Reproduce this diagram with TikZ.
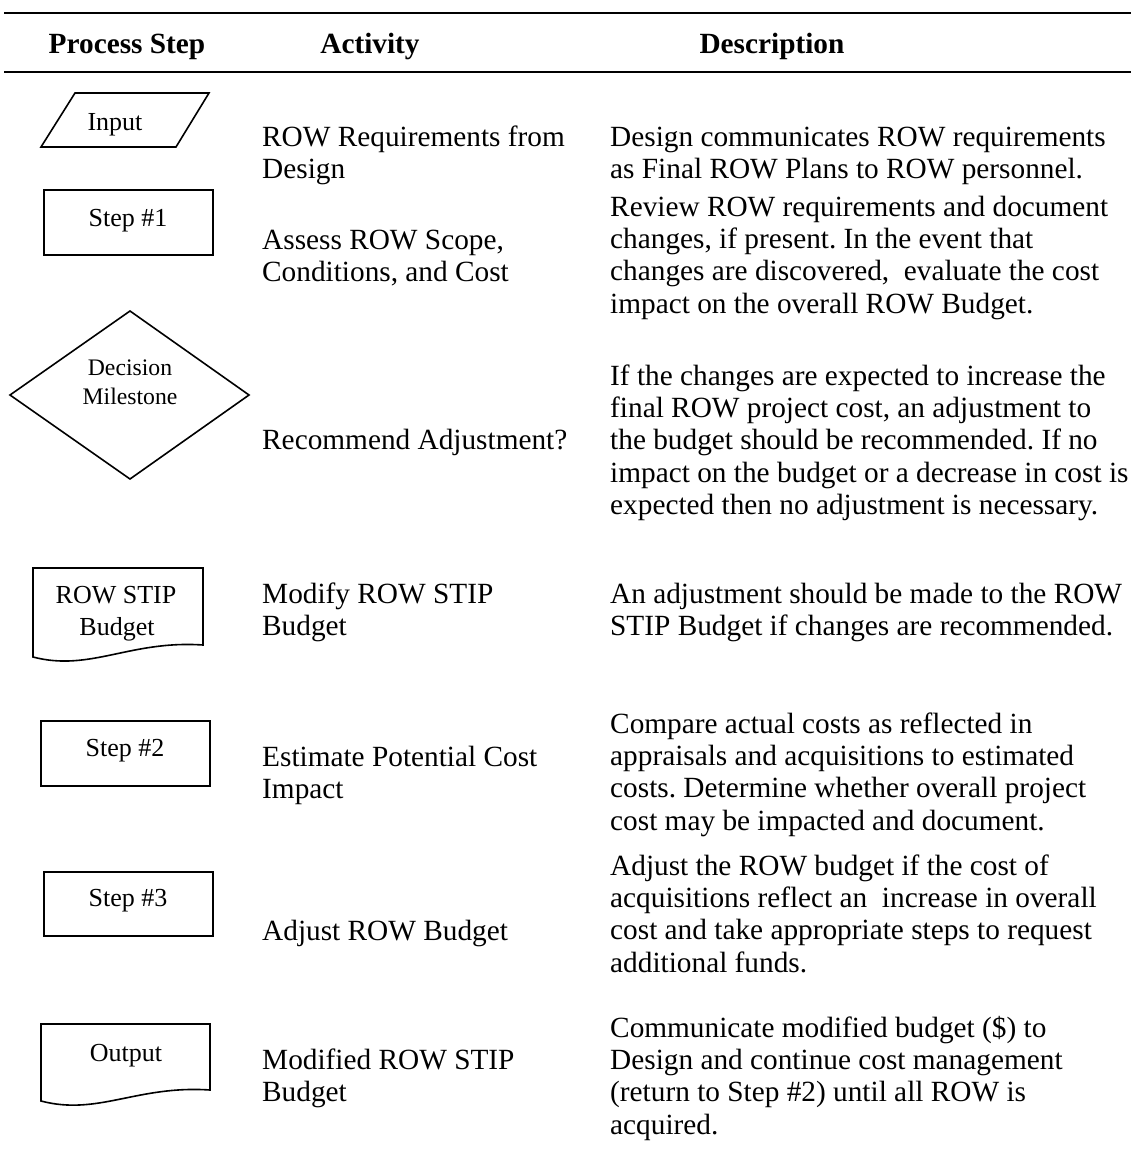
\documentclass[tikz,border=0pt]{standalone}
\usepackage{fontspec}
\setmainfont{Liberation Serif}
\newcommand\rowcell[1]{\begin{tabular}[t]{@{}l@{}}#1\end{tabular}}
\begin{document}
\frenchspacing
\begin{tikzpicture}[x=1pt,y=-1pt,
  flow/.style={draw, line width=1.6pt, line join=miter},
  body/.style={anchor=base west, inner sep=0pt, font=\fontsize{29.3}{32.4}\selectfont},
  head/.style={anchor=base, inner sep=0pt, font=\fontsize{29.3}{32.4}\selectfont\bfseries},
  lbl/.style={anchor=base, inner sep=0pt, font=\fontsize{26}{31}\selectfont},
  lblsmall/.style={anchor=base, inner sep=0pt, font=\fontsize{23.7}{29}\selectfont},
  rule/.style={line width=2.6pt}]
\useasboundingbox (0,0) rectangle (1131,1167);

% table rules
\coordinate (r1a) at (4,13);  \coordinate (r1b) at (1131,13);
\coordinate (r2a) at (4,72);  \coordinate (r2b) at (1131,72);
\draw[rule] (r1a) -- (r1b);
\draw[rule] (r2a) -- (r2b);

% column heads
\node[head] (h1) at (127,53) {Process Step};
\node[head] (h2) at (370,53) {Activity};
\node[head] (h3) at (772,53) {Description};

% process step symbols
\draw[flow] (75,93) -- (209,93) -- (176,147) -- (41,147) -- cycle;
\node[lbl] (s1) at (115,130) {Input};

\draw[flow] (44,190) rectangle (213,255);
\node[lbl] (s2) at (128,226) {Step \#1};

\draw[flow] (130,311) -- (249,395) -- (130,479) -- (10,395) -- cycle;
\node[lblsmall] (s3a) at (130,375) {Decision};
\node[lblsmall] (s3b) at (130,404) {Milestone};

\draw[flow] (33,657) -- (33,568) -- (203,568) -- (203,645)
  .. controls (130,640) and (90,672) .. cycle;
\node[lbl] (s4a) at (116,603) {ROW STIP};
\node[lbl] (s4b) at (117,635) {Budget};

\draw[flow] (41,721) rectangle (210,786);
\node[lbl] (s5) at (125,756) {Step \#2};

\draw[flow] (44,872) rectangle (213,936);
\node[lbl] (s6) at (128,906) {Step \#3};

\draw[flow] (41,1101) -- (41,1024) -- (210,1024) -- (210,1090)
  .. controls (137,1085) and (98,1116) .. cycle;
\node[lbl] (s7) at (126,1061) {Output};

% activity column
\node[body] (a1) at (262,146) {\rowcell{ROW Requirements from\\Design}};
\node[body] (a2) at (262,249) {\rowcell{Assess ROW Scope,\\Conditions, and Cost}};
\node[body] (a3) at (262,449) {\rowcell{Recommend Adjustment?}};
\node[body] (a4) at (262,603) {\rowcell{Modify ROW STIP\\Budget}};
\node[body] (a5) at (262,766) {\rowcell{Estimate Potential Cost\\Impact}};
\node[body] (a6) at (262,940) {\rowcell{Adjust ROW Budget}};
\node[body] (a7) at (262,1069) {\rowcell{Modified ROW STIP\\Budget}};

% description column
\node[body] (d1) at (610,146) {\rowcell{Design communicates ROW requirements\\as Final ROW Plans to ROW personnel.}};
\node[body] (d2) at (610,216) {\rowcell{Review ROW requirements and document\\changes, if present. In the event that\\changes are discovered,\ \ evaluate the cost\\impact on the overall ROW Budget.}};
\node[body] (d3) at (610,385) {\rowcell{If the changes are expected to increase the\\final ROW project cost, an adjustment to\\the budget should be recommended. If no\\impact on the budget or a decrease in cost is\\expected then no adjustment is necessary.}};
\node[body] (d4) at (610,603) {\rowcell{An adjustment should be made to the ROW\\STIP Budget if changes are recommended.}};
\node[body] (d5) at (610,733) {\rowcell{Compare actual costs as reflected in\\appraisals and acquisitions to estimated\\costs. Determine whether overall project\\cost may be impacted and document.}};
\node[body] (d6) at (610,875) {\rowcell{Adjust the ROW budget if the cost of\\acquisitions reflect an\ \ increase in overall\\cost and take appropriate steps to request\\additional funds.}};
\node[body] (d7) at (610,1037) {\rowcell{Communicate modified budget (\$) to\\Design and continue cost management\\(return to Step \#2) until all ROW is\\acquired.}};
\end{tikzpicture}
\end{document}
